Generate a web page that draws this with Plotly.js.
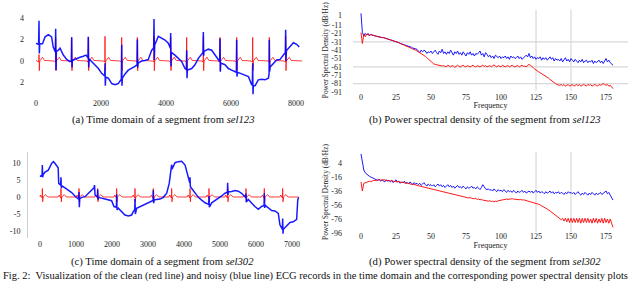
<!DOCTYPE html>
<html>
<head>
<meta charset="utf-8">
<script src="https://cdn.plot.ly/plotly-3.0.1.min.js"></script>
<style>html,body{margin:0;padding:0;background:#fff;}#chart{width:640px;height:283px;}</style>
</head>
<body>
<div id="chart"></div>
<script>
// ---------- (a) sel123, time domain : [sample, value] ----------
const noisyA = [[0,1.65],[80,1.55],[92,3.75],[102,0.7],[115,1.6],[200,1.6],[280,2.25],[380,2.45],[480,2.25],[530,1.3],[585,0.85],
[595,0.85],[605,3.0],[615,-0.85],[628,0.9],[690,1.0],[740,1.2],[840,0.55],[945,0.15],[1045,-0.05],
[1088,0.0],[1097,2.2],[1107,-0.6],[1118,0.0],[1150,0.1],[1250,0.25],[1355,0.35],[1455,0.45],[1540,0.55],
[1600,0.3],[1610,2.25],[1620,-0.6],[1632,0.2],[1710,-0.05],[1815,-0.35],[1920,-0.7],[2020,-1.15],
[2113,-1.4],[2123,-0.2],[2133,-2.3],[2145,-1.5],[2225,-1.6],[2330,-2.1],[2430,-2.2],[2530,-2.1],
[2626,-1.7],[2636,1.5],[2646,-2.3],[2658,-1.6],[2740,-1.2],[2840,-0.85],[2945,-0.7],[3045,-0.5],
[3108,-0.35],[3118,2.0],[3128,-0.6],[3140,-0.2],[3250,0.0],[3350,0.05],[3455,0.15],[3560,1.0],
[3620,1.2],[3631,3.9],[3641,0.1],[3652,1.5],[3765,2.3],[3865,2.1],[3970,1.95],[4070,1.65],
[4134,1.2],[4144,2.6],[4154,-0.5],[4165,0.8],[4275,0.55],[4380,0.25],[4480,-0.05],[4585,-0.7],
[4626,-0.8],[4636,1.0],[4646,-1.6],[4658,-0.85],[4790,-0.7],[4890,-0.35],[4995,0.25],[5100,0.7],
[5139,0.8],[5149,2.7],[5159,0.5],[5170,0.9],[5200,0.95],[5300,1.1],[5405,1.0],[5510,0.55],[5610,0.1],
[5652,-0.05],[5662,2.1],[5672,-1.0],[5684,-0.2],[5815,-0.35],[5920,-0.7],[6020,-0.85],[6125,-1.0],
[6164,-1.05],[6174,1.95],[6184,-1.45],[6196,-1.05],[6330,-1.2],[6430,-1.3],[6535,-1.45],[6635,-2.2],
[6657,-2.2],[6667,-0.2],[6677,-3.1],[6689,-2.3],[6740,-2.3],[6840,-1.75],[6945,-1.7],[7045,-1.75],[7150,-1.6],
[7172,-1.2],[7179,1.95],[7189,-1.0],[7200,-0.6],[7220,-0.5],[7300,-0.2],[7405,0.1],[7510,0.15],[7610,0.55],
[7672,0.8],[7682,2.9],[7692,0.0],[7704,0.9],[7715,1.0],[7815,1.3],[7920,1.7],[8020,1.55],[8100,1.3]];

const cleanA = [[0,0.05],
[52,0],[84,-0.1],[92,0.6],[102,-0.9],[114,0],[200,0.35],[262,0.05],
[565,0],[597,-0.1],[605,2.2],[615,-0.9],[627,0],[715,0.35],[775,0.05],
[1057,0],[1089,-0.1],[1097,2.2],[1107,-0.9],[1119,0],[1207,0.35],[1267,0.05],
[1570,0],[1602,-0.1],[1610,2.2],[1620,-0.9],[1632,0],[1720,0.35],[1780,0.05],
[2083,0],[2115,-0.1],[2123,2.3],[2133,-0.9],[2145,0],[2233,0.35],[2293,0.05],
[2596,0],[2628,-0.1],[2636,2.2],[2646,-0.9],[2658,0],[2746,0.35],[2806,0.05],
[3078,0],[3110,-0.1],[3118,2.2],[3128,-0.9],[3140,0],[3228,0.35],[3288,0.05],
[3591,0],[3623,-0.1],[3631,2.3],[3641,-0.9],[3653,0],[3741,0.35],[3801,0.05],
[4104,0],[4136,-0.1],[4144,2.2],[4154,-0.9],[4166,0],[4254,0.35],[4314,0.05],
[4596,0],[4628,-0.1],[4636,2.2],[4646,-0.9],[4658,0],[4746,0.35],[4806,0.05],
[5109,0],[5141,-0.1],[5149,2.3],[5159,-0.9],[5171,0],[5259,0.35],[5319,0.05],
[5622,0],[5654,-0.1],[5662,2.2],[5672,-0.9],[5684,0],[5772,0.35],[5832,0.05],
[6134,0],[6166,-0.1],[6174,2.2],[6184,-0.9],[6196,0],[6284,0.35],[6344,0.05],
[6627,0],[6659,-0.1],[6667,2.2],[6677,-0.9],[6689,0],[6777,0.35],[6837,0.05],
[7139,0],[7171,-0.1],[7179,2.2],[7189,-0.9],[7201,0],[7289,0.35],[7349,0.05],
[7642,0],[7674,-0.1],[7682,2.3],[7692,-0.9],[7704,0],[7792,0.35],[7852,0.05],
[8190,0]];

// ---------- (c) sel302, time domain ----------
const noisyC = [[0,6.0],[46,6.4],[58,6.5],[65,9.4],[75,5.8],[88,6.6],[140,7.3],[230,7.9],[325,9.9],[370,10.4],[415,9.9],[480,8.9],[505,8.6],[520,4.0],
[575,3.5],[583,5.8],[593,2.6],[605,3.3],[695,2.7],[790,2.0],[880,1.3],[970,0.3],[1065,-0.7],
[1075,-0.6],[1083,1.5],[1093,-3.0],[1105,-0.5],[1160,-0.1],[1250,0.1],[1345,1.1],[1435,2.0],[1500,2.7],[1515,3.5],[1530,0.6],
[1595,0.0],[1602,2.2],[1612,-0.8],[1625,-0.1],[1715,-0.4],[1850,-0.7],[1990,-1.1],[2055,-2.8],
[2122,-3.0],[2130,0.8],[2140,-3.8],[2175,-3.3],[2270,-4.3],[2360,-5.3],[2455,-5.6],[2545,-5.3],[2590,-4.3],
[2632,-3.7],[2639,-0.5],[2649,-5.0],[2685,-3.3],[2780,-2.8],[2870,-2.4],[2965,-1.9],[3055,-1.5],
[3141,-1.0],[3148,2.0],[3158,-1.8],[3170,-0.9],[3240,-0.7],[3335,-0.6],[3425,-0.1],[3520,1.1],[3590,4.0],
[3650,8.0],[3657,9.5],[3667,8.2],[3750,10.1],[3840,10.4],[3935,10.5],[4030,9.4],[4090,7.0],
[4160,4.2],[4167,5.8],[4177,3.0],[4215,2.5],[4305,1.1],[4400,-0.1],[4490,-0.9],[4585,-1.7],[4675,-2.1],
[4687,-2.0],[4694,0.3],[4704,-3.0],[4770,-1.7],[4860,-1.1],[4955,-0.4],[5045,0.3],[5140,1.1],
[5206,1.4],[5213,4.2],[5223,0.6],[5230,1.5],[5325,1.6],[5415,1.9],[5510,1.7],[5600,1.1],[5695,0.1],
[5715,-0.1],[5722,1.0],[5732,-1.5],[5785,-0.7],[5880,-1.9],[5970,-2.8],[6065,-3.6],[6155,-2.8],
[6224,-2.5],[6231,1.1],[6241,-3.2],[6250,-2.4],[6340,-3.3],[6435,-4.0],[6530,-4.1],[6620,-4.8],[6665,-8.2],[6715,-9.2],
[6734,-9.5],[6741,-6.3],[6751,-10.8],[6760,-9.5],[6850,-8.5],[6945,-7.5],[7035,-7.3],[7130,-6.6],[7160,-0.9],[7185,-0.1]];

const cleanC = [[0,0],
[15,0.6],[40,0],[60,-0.3],[65,2.5],[75,-1.4],[87,0],[155,0.7],[215,0],
[503,0],[533,0.6],[558,0],[578,-0.3],[583,2.5],[593,-1.4],[605,0],[673,0.7],[733,0],
[1003,0],[1033,0.6],[1058,0],[1078,-0.3],[1083,2.5],[1093,-1.4],[1105,0],[1173,0.7],[1233,0],
[1522,0],[1552,0.6],[1577,0],[1597,-0.3],[1602,2.5],[1612,-1.4],[1624,0],[1692,0.7],[1752,0],
[2050,0],[2080,0.6],[2105,0],[2125,-0.3],[2130,2.5],[2140,-1.4],[2152,0],[2220,0.7],[2280,0],
[2559,0],[2589,0.6],[2614,0],[2634,-0.3],[2639,2.5],[2649,-1.4],[2661,0],[2729,0.7],[2789,0],
[3068,0],[3098,0.6],[3123,0],[3143,-0.3],[3148,2.5],[3158,-1.4],[3170,0],[3238,0.7],[3298,0],
[3577,0],[3607,0.6],[3632,0],[3652,-0.3],[3657,2.5],[3667,-1.4],[3679,0],[3747,0.7],[3807,0],
[4087,0],[4117,0.6],[4142,0],[4162,-0.3],[4167,2.5],[4177,-1.4],[4189,0],[4257,0.7],[4317,0],
[4614,0],[4644,0.6],[4669,0],[4689,-0.3],[4694,2.5],[4704,-1.4],[4716,0],[4784,0.7],[4844,0],
[5133,0],[5163,0.6],[5188,0],[5208,-0.3],[5213,2.5],[5223,-1.4],[5235,0],[5303,0.7],[5363,0],
[5642,0],[5672,0.6],[5697,0],[5717,-0.3],[5722,2.5],[5732,-1.4],[5744,0],[5812,0.7],[5872,0],
[6151,0],[6181,0.6],[6206,0],[6226,-0.3],[6231,2.5],[6241,-1.4],[6253,0],[6321,0.7],[6381,0],
[6661,0],[6691,0.6],[6716,0],[6736,-0.3],[6741,2.5],[6751,-1.4],[6763,0],[6831,0.7],[6891,0],
[7185,0]];

// ---------- PSD (dB/Hz), one value per Hz from 0 to 180 ----------
const psdNoisyB = [3,-20,-24,-21,-23,-21,-24,-22,-23,-24,
-24,-24.5,-25,-25,-25.5,-26,-26,-26.5,-27,-27.5,
-28,-28.5,-29,-29.5,-30,-31,-31.5,-32,-33,-33.5,
-34,-34.5,-35,-36,-36.5,-37,-37.5,-38.5,-39,-39.5,
-40,-42,-44,-41,-43,-41,-42,-45,-43,-44,
-42,-45,-43,-41,-44,-46,-42,-44,-40,-45,
-43,-46,-43,-45,-41,-44,-47,-43,-45,-42,
-46,-44,-47,-43,-45,-48,-44,-46,-43,-47,
-45,-48,-45,-46,-44,-42,-47,-45,-49,-44,
-46,-49,-47,-50,-48,-51,-47,-49,-50,-48,
-51,-49,-50,-48,-51,-49,-52,-48,-50,-49,
-51,-50,-48,-51,-49,-52,-50,-48,-47,-49,
-45,-50,-48,-51,-49,-52,-50,-51,-49,-53,
-50,-52,-50,-53,-51,-49,-52,-50,-54,-51,
-53,-52,-54,-51,-55,-53,-50,-54,-52,-55,
-51,-53,-55,-52,-54,-56,-53,-55,-52,-56,
-54,-53,-56,-54,-55,-53,-57,-54,-56,-55,
-53,-56,-54,-57,-53,-51,-55,-53,-56,-58,-59];

const psdCleanB = [-20,-33,-22,-25,-22,-23,-23,-22.5,-23,-23.5,
-24,-24.5,-25,-25,-25.5,-26,-26,-26.5,-27,-27.5,
-28,-28.5,-29,-29.5,-30,-31,-31.5,-32,-33,-33.5,
-34.5,-35,-36,-36.5,-37.5,-38,-39,-39.5,-40.5,-41,
-42,-43,-44,-45,-46,-47,-48.5,-50,-51.5,-53,
-55,-57,-57.5,-58,-58.5,-59,-59,-59.5,-60,-59.5,
-60,-61,-59,-60,-61,-59.5,-60,-61.5,-60,-59,
-60.5,-61,-60,-59,-60.5,-61,-59.5,-60,-61,-60,
-59,-60.5,-61,-59.5,-60,-61,-60,-59,-60.5,-59.5,
-61,-60,-59.5,-61,-60,-58.5,-60,-61,-59.5,-60,
-61,-59,-60.5,-61,-60,-59.5,-61,-60,-59,-60.5,
-61,-60,-59.5,-61,-60,-59,-60.5,-60,-61,-59,
-58,-59,-60,-62,-63.5,-65,-66,-67,-68,-69,
-70,-71,-72,-73,-74.5,-76,-77.5,-79,-80,-81,
-82,-82.5,-83,-82,-83.5,-82,-84,-83,-82,-84,
-83,-82,-84,-83,-82,-83.5,-82,-84,-83,-82,
-83,-84,-82,-83,-82,-84,-83,-82,-83,-84,
-82,-83,-82,-81,-82,-83,-82,-84,-83,-85,-87];

const psdNoisyD = [17,4,-6,-10,-12,-13.5,-15,-16,-17,-18,
-19,-20,-21,-19,-22,-20,-21,-23,-20,-22,
-21,-23,-21,-24,-22,-20,-23,-22,-25,-23,
-24,-22,-25,-24,-26,-23,-25,-27,-24,-26,
-25,-27,-25,-28,-26,-24,-27,-29,-26,-28,
-27,-29,-27,-30,-28,-26,-29,-27,-30,-28,
-31,-29,-27,-30,-28,-31,-29,-32,-30,-28,
-31,-30,-32,-29,-31,-33,-30,-32,-31,-29,
-32,-31,-33,-30,-32,-34,-31,-27,-30,-33,
-34,-33,-35,-34,-36,-33,-35,-37,-34,-36,
-35,-37,-34,-36,-38,-35,-37,-36,-38,-35,
-37,-39,-36,-38,-37,-35,-38,-36,-39,-37,
-36,-38,-36,-39,-37,-35,-38,-36,-39,-37,
-38,-40,-37,-39,-38,-36,-39,-37,-40,-38,
-39,-37,-40,-38,-39,-41,-38,-40,-37,-39,
-38,-40,-38,-41,-39,-37,-40,-42,-39,-41,
-38,-40,-42,-39,-41,-38,-40,-42,-39,-41,
-40,-38,-41,-39,-37,-36,-40,-38,-42,-45,-49];

const psdCleanD = [-23,-36,-25,-24,-23,-23,-22,-22.5,-21.5,-21,
-21,-20.5,-21,-20,-20.5,-20,-20.5,-20,-21,-20.5,
-21,-21.5,-21,-22,-22.5,-22,-23,-22.5,-23.5,-24,
-23.5,-24.5,-25,-24.5,-25.5,-26,-26.5,-26,-27,-27.5,
-28,-28.5,-29,-29.5,-30,-30.5,-31,-31.5,-32,-32.5,
-33,-33.5,-34,-35,-35.5,-36,-36.5,-37,-37.5,-38,
-38.5,-39,-39.5,-40,-40.5,-41,-41.5,-42,-42,-42.5,
-43,-43.5,-44,-44,-44.5,-45,-45.5,-46,-45.5,-46.5,
-47,-47,-46.5,-48,-47.5,-48.5,-48,-49,-49.5,-49,
-50,-50.5,-50,-51,-50.5,-51.5,-50.5,-51,-50,-49.5,
-49,-48.5,-48,-48.5,-47.5,-48,-47.5,-48,-47,-47.5,
-48,-47.5,-48,-48.5,-48,-49,-48.5,-49,-49.5,-50,
-50.5,-51,-51.5,-52,-53,-53.5,-54.5,-55,-56,-57,
-58,-59,-60,-61.5,-63,-64.5,-66,-67.5,-69,-70.5,
-72,-73,-75,-77,-75,-79,-75,-80,-75,-81,
-75,-81,-75,-81,-75,-81,-75,-82,-75,-81,
-75,-81,-75,-81,-76,-82,-75,-81,-75,-82,
-76,-81,-75,-82,-75,-81,-76,-82,-76,-84,-88];

// ---------- tick labels ----------
const ticksA_y = [-2, 0, 2, 4], ticksA_yText = ['2', '0', '2', '4'];
const ticksA_x = [0, 2000, 4000, 6000, 8000];
const ticksC_y = [-10, -5, 0, 5, 10], ticksC_yText = ['-10', '-5', '0', '5', '10'];
const ticksC_x = [0, 1000, 2000, 3000, 4000, 5000, 6000, 7000];
const ticksB_y = [1, -11, -21, -31, -41, -51, -61, -71, -81, -91];
const ticksD_y = [4, -16, -36, -56, -76, -96];
const ticksF = [0, 25, 50, 75, 100, 125, 150, 175];
const gridB_y = [-31, -61, -81];
const gridF = [125, 150];

const BLUE = '#0000ff', RED = '#ff0000';
const SERIF = 'Liberation Serif, Times New Roman, serif';
const xs = a => a.map(p => p[0]), ys = a => a.map(p => p[1]);

const traces = [
  {x: xs(cleanA), y: ys(cleanA), xaxis: 'x', yaxis: 'y', mode: 'lines', line: {color: RED, width: 0.9}, opacity: 0.85},
  {x: xs(noisyA), y: ys(noisyA), xaxis: 'x', yaxis: 'y', mode: 'lines', line: {color: BLUE, width: 1.5}, opacity: 0.9},
  {y: psdNoisyB, x0: 0, dx: 1, xaxis: 'x2', yaxis: 'y2', mode: 'lines', line: {color: BLUE, width: 0.9}},
  {y: psdCleanB, x0: 0, dx: 1, xaxis: 'x2', yaxis: 'y2', mode: 'lines', line: {color: RED, width: 0.9}},
  {x: xs(cleanC), y: ys(cleanC), xaxis: 'x3', yaxis: 'y3', mode: 'lines', line: {color: RED, width: 0.9}, opacity: 0.85},
  {x: xs(noisyC), y: ys(noisyC), xaxis: 'x3', yaxis: 'y3', mode: 'lines', line: {color: BLUE, width: 1.5}, opacity: 0.9},
  {y: psdNoisyD, x0: 0, dx: 1, xaxis: 'x4', yaxis: 'y4', mode: 'lines', line: {color: BLUE, width: 0.9}},
  {y: psdCleanD, x0: 0, dx: 1, xaxis: 'x4', yaxis: 'y4', mode: 'lines', line: {color: RED, width: 0.9}}
];

const tickFont = {family: SERIF, size: 8, color: '#222'};
const baseAx = {showgrid: false, zeroline: false, showline: false, ticks: '', tickfont: tickFont, fixedrange: true};

const shapes = [];
gridB_y.forEach(v => shapes.push({type: 'line', xref: 'x2 domain', yref: 'y2', x0: 0, x1: 1, y0: v, y1: v, layer: 'below', line: {color: '#d8d8d8', width: 1.2}}));
gridF.forEach(f => {
  shapes.push({type: 'line', xref: 'x2', yref: 'y2 domain', x0: f, x1: f, y0: 0.02, y1: 0.98, layer: 'below', line: {color: '#d8d8d8', width: 1.2}});
  shapes.push({type: 'line', xref: 'x4', yref: 'y4 domain', x0: f, x1: f, y0: 0.02, y1: 0.98, layer: 'below', line: {color: '#d8d8d8', width: 1.2}});
});

const capFont = {family: SERIF, size: 10.7, color: '#111'};
const annotations = [
  {text: '(a) Time domain of a segment from <i>sel123</i>', x: 163/640, y: 1 - 119/283},
  {text: '(b) Power spectral density of the segment from <i>sel123</i>', x: 485/640, y: 1 - 119/283},
  {text: '(c) Time domain of a segment from <i>sel302</i>', x: 162/640, y: 1 - 261/283},
  {text: '(d) Power spectral density of the segment from <i>sel302</i>', x: 485/640, y: 1 - 261/283}
].map(a => Object.assign(a, {xref: 'paper', yref: 'paper', xanchor: 'center', yanchor: 'middle', showarrow: false, font: capFont}));
annotations.push({text: 'Fig. 2:  Visualization of the clean (red line) and noisy (blue line) ECG records in the time domain and the corresponding power spectral density plots',
  xref: 'paper', yref: 'paper', x: 1/640, y: 1 - 276/283, xanchor: 'left', yanchor: 'middle', showarrow: false,
  font: {family: SERIF, size: 10.5, color: '#111'}});

const psdYTitle = {text: 'Power Spectral Density (dB/Hz)', font: {family: SERIF, size: 7.4, color: '#222'}, standoff: 1};
const freqTitle = {text: 'Frequency', font: {family: SERIF, size: 8, color: '#222'}, standoff: 0};

const layout = {
  width: 640, height: 283, autosize: false,
  margin: {l: 0, r: 0, t: 0, b: 0, pad: 0},
  paper_bgcolor: '#fff', plot_bgcolor: 'rgba(0,0,0,0)',
  showlegend: false,
  xaxis: Object.assign({}, baseAx, {domain: [30/640, 305/640], range: [-185, 8277], tickvals: ticksA_x, anchor: 'y', ticklabelstandoff: 0}),
  yaxis: Object.assign({}, baseAx, {domain: [1 - 97/283, 1 - 12/283], range: [-3.35, 4.56], tickvals: ticksA_y, ticktext: ticksA_yText, anchor: 'x', ticklabelstandoff: 5}),
  xaxis2: Object.assign({}, baseAx, {domain: [353/640, 628/640], range: [-5.71, 190.7], tickvals: ticksF, anchor: 'y2', ticklabelstandoff: -2, title: freqTitle}),
  yaxis2: Object.assign({}, baseAx, {domain: [1 - 92.5/283, 1 - 8/283], range: [-91.6, 9.36], tickvals: ticksB_y, ticktext: ticksB_y.map(String), anchor: 'x2', ticklabelstandoff: 10, title: psdYTitle}),
  xaxis3: Object.assign({}, baseAx, {domain: [28/640, 303/640], range: [-333, 7306], tickvals: ticksC_x, anchor: 'y3', ticklabelstandoff: 0}),
  yaxis3: Object.assign({}, baseAx, {domain: [1 - 238/283, 1 - 152/283], range: [-12.06, 13.24], tickvals: ticksC_y, ticktext: ticksC_yText, anchor: 'x3', ticklabelstandoff: 5, showline: true, linecolor: '#cfcfcf', linewidth: 1}),
  xaxis4: Object.assign({}, baseAx, {domain: [353/640, 628/640], range: [-5.71, 190.7], tickvals: ticksF, anchor: 'y4', ticklabelstandoff: -4, title: freqTitle}),
  yaxis4: Object.assign({}, baseAx, {domain: [1 - 234/283, 1 - 150/283], range: [-97.43, 22.57], tickvals: ticksD_y, ticktext: ticksD_y.map(String), anchor: 'x4', ticklabelstandoff: 10, title: psdYTitle}),
  shapes: shapes,
  annotations: annotations
};

Plotly.newPlot('chart', traces, layout, {staticPlot: true, displayModeBar: false});
</script>
</body>
</html>
